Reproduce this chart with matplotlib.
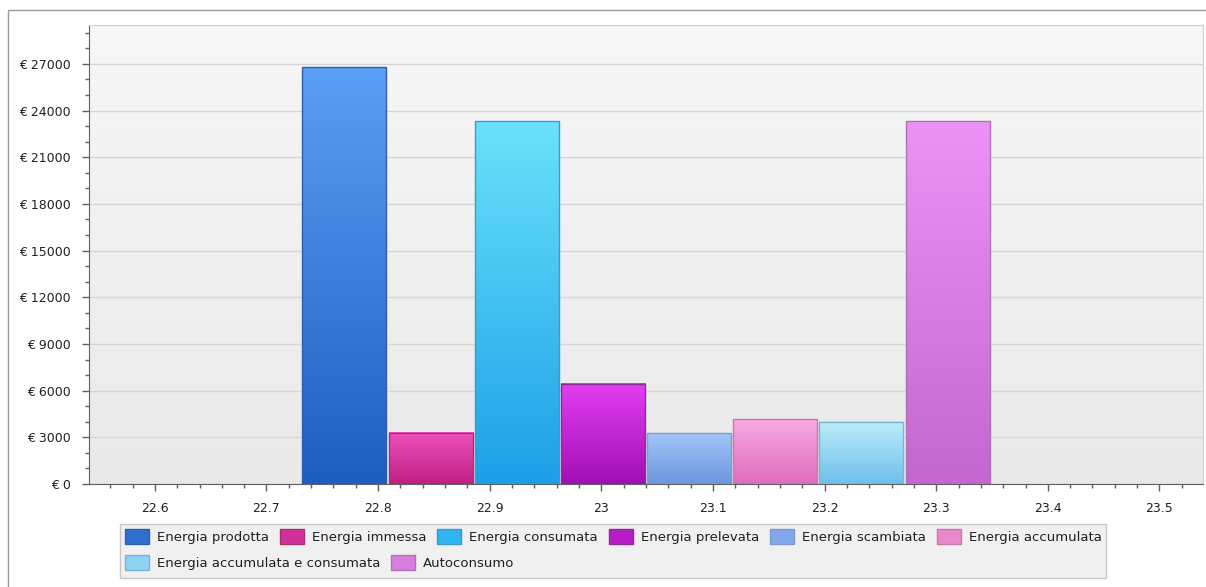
import numpy as np
import matplotlib
matplotlib.use('Agg')
import matplotlib.pyplot as plt
from matplotlib.patches import Patch, Rectangle
from matplotlib.colors import LinearSegmentedColormap
from matplotlib.ticker import MultipleLocator, FuncFormatter

# data
series = ['Energia prodotta', 'Energia immessa', 'Energia consumata',
          'Energia prelevata', 'Energia scambiata', 'Energia accumulata',
          'Energia accumulata e consumata', 'Autoconsumo']
values = [26800, 3300, 23300, 6450, 3250, 4150, 4000, 23300]
x_center = 23.04
slot = 0.0772

top_colors = ['#5c9ff6', '#ee52bd', '#6ae2fb', '#e23ff2',
              '#a3c6f8', '#f8aae2', '#bdedfa', '#ee92f6']
bottom_colors = ['#1f5cc0', '#c01f84', '#1c9fe8', '#a00fb2',
                 '#6b97e0', '#df6dbf', '#6ebfec', '#c466cf']
edge_colors = ['#2d5fa8', '#a8306e', '#3a9ccc', '#8c2a98',
               '#7d9ccc', '#c878b0', '#7ab4d4', '#b070b8']
legend_colors = ['#2f6fd0', '#d0309a', '#30b4f0', '#b81cc8',
                 '#80a8ea', '#ea88cc', '#8ed2f2', '#d87ee0']

W, H = 1206, 587
plt.rcParams['font.family'] = ['DejaVu Sans']
fig = plt.figure(figsize=(W / 100, H / 100), dpi=100)

# outer frame
fig.patches.append(Rectangle((8 / W, -0.02), 1.0, 1 - 10 / H + 0.02,
                             transform=fig.transFigure, fill=False,
                             edgecolor='#9a9a9a', lw=1))

pos = [89 / W, 1 - 484 / H, (1203 - 89) / W, (484 - 25) / H]

# plot background gradient
bg = fig.add_axes(pos, zorder=0)
bg_cmap = LinearSegmentedColormap.from_list('bg', ['#e9e9e9', '#f7f7f7'])
bg.imshow(np.linspace(0, 1, 256).reshape(-1, 1), cmap=bg_cmap, aspect='auto',
          origin='lower', extent=[0, 1, 0, 1])
bg.axis('off')

ax = fig.add_axes(pos, zorder=1)
ax.set_facecolor('none')

xs = [x_center + (i - 3.5) * slot for i in range(len(values))]
bars = ax.bar(xs, values, width=slot * 0.975, facecolor='none',
              edgecolor=edge_colors, lw=1, zorder=3)
grad = np.linspace(0, 1, 256).reshape(-1, 1)
for b, c0, c1 in zip(bars, bottom_colors, top_colors):
    cm = LinearSegmentedColormap.from_list('g', [c0, c1])
    x0, y0 = b.get_x(), b.get_y()
    ax.imshow(grad, cmap=cm, aspect='auto', origin='lower',
              extent=[x0, x0 + b.get_width(), y0, y0 + b.get_height()],
              zorder=2)

ax.set_xlim(22.541, 23.539)
ax.set_ylim(0, 29500)

ax.yaxis.set_major_locator(MultipleLocator(3000))
ax.yaxis.set_minor_locator(MultipleLocator(1000))
ax.xaxis.set_major_locator(MultipleLocator(0.1))
ax.xaxis.set_minor_locator(MultipleLocator(0.02))
ax.yaxis.set_major_formatter(FuncFormatter(lambda v, p: '€ %d' % v))
ax.xaxis.set_major_formatter(FuncFormatter(lambda v, p: '%g' % round(v, 2)))

ax.yaxis.grid(True, color='#d6d6d6', lw=1)
ax.set_axisbelow(True)

ax.tick_params(axis='both', which='major', length=5, width=1, color='#606060',
               labelsize=9, labelcolor='#202020')
ax.tick_params(axis='both', which='minor', length=3, width=1, color='#606060')
ax.tick_params(axis='y', which='major', pad=8)
ax.tick_params(axis='x', which='major', pad=8)
for s in ['left', 'bottom']:
    ax.spines[s].set_color('#606060')
for s in ['top', 'right']:
    ax.spines[s].set_color('#d0d0d0')

# legend box + two flowing rows
fig.patches.append(Rectangle((120 / W, 1 - 578 / H), 986 / W, 54 / H,
                             transform=fig.transFigure, facecolor='#f0f0f0',
                             edgecolor='#c8c8c8', lw=1, zorder=0))
handles = [Patch(facecolor=c, edgecolor=e) for c, e in zip(legend_colors, edge_colors)]
common = dict(loc='upper left', frameon=False, fontsize=9.5, borderpad=0,
              borderaxespad=0, handlelength=1.82, handleheight=1.36,
              handletextpad=0.6, columnspacing=0.83)
leg1 = fig.legend(handles[:6], series[:6], ncol=6,
                  bbox_to_anchor=(125 / W, 1 - 529 / H), **common)
leg2 = fig.legend(handles[6:], series[6:], ncol=2,
                  bbox_to_anchor=(125 / W, 1 - 555 / H), **common)
for lg in (leg1, leg2):
    for t in lg.get_texts():
        t.set_color('#202020')

fig.savefig('out.png', dpi=100)
